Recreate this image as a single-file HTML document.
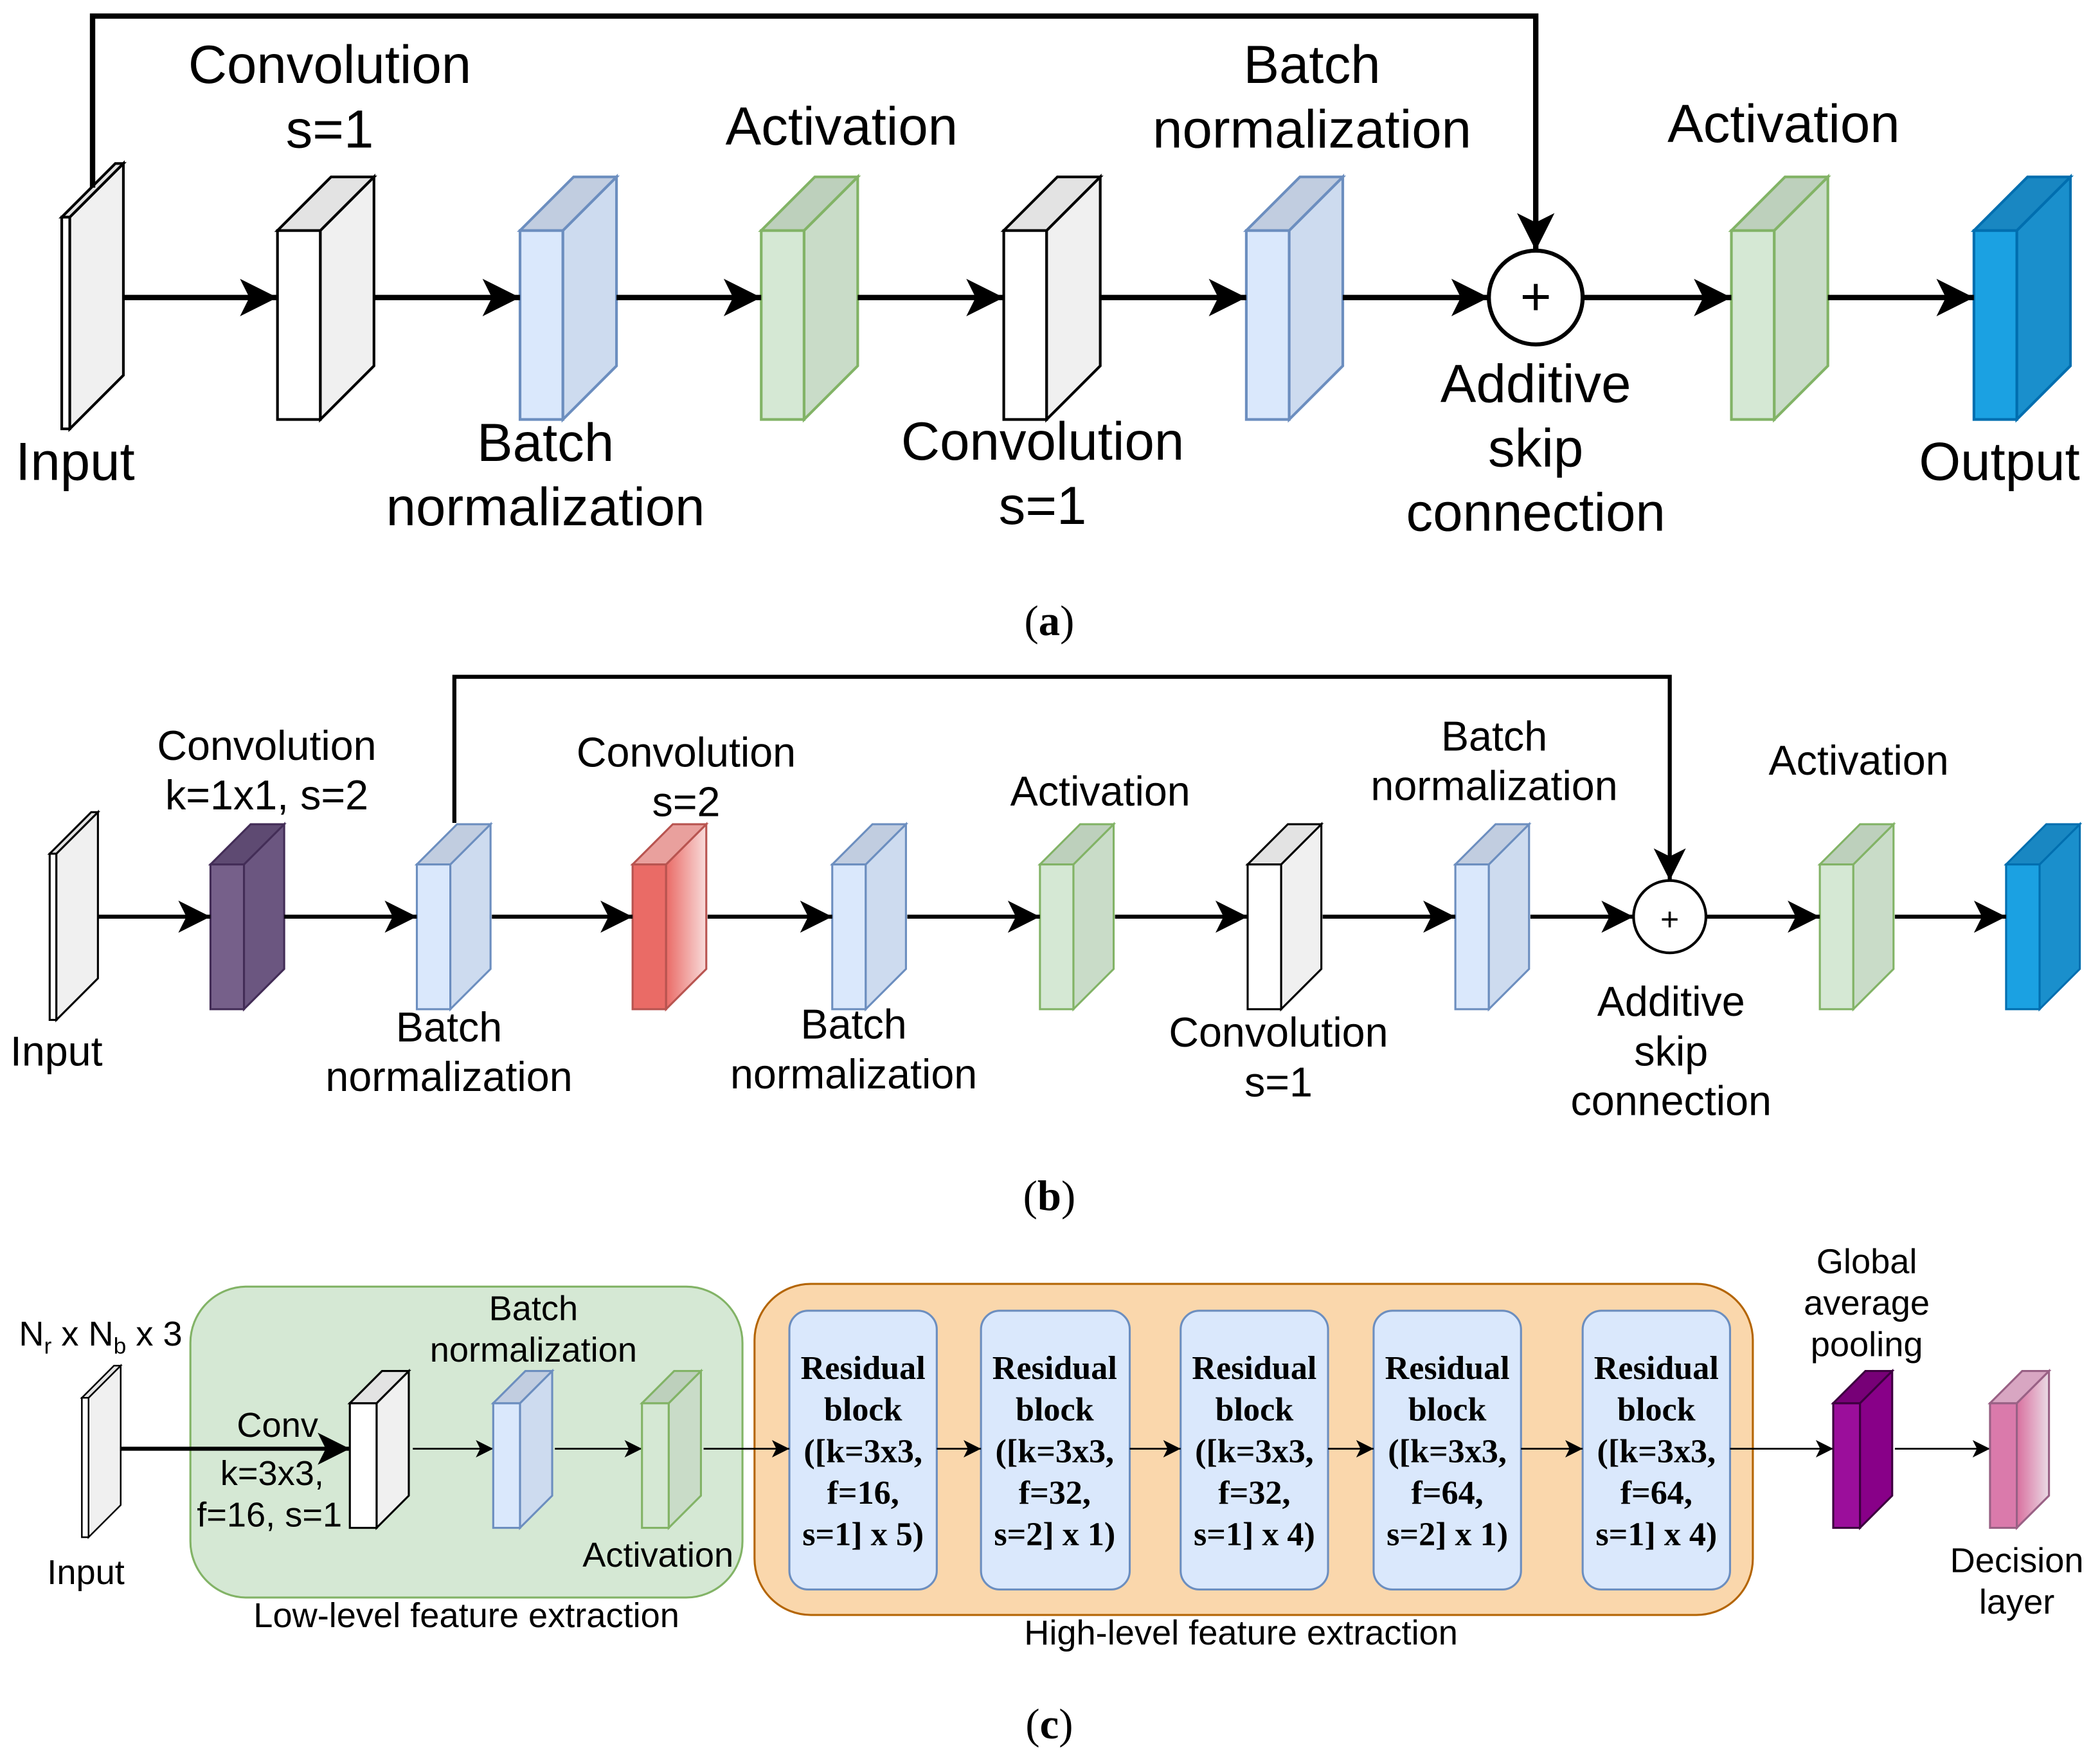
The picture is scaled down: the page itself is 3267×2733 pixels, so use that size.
<!DOCTYPE html>
<html><head><meta charset="utf-8"><style>
html,body{margin:0;padding:0;background:#fff;}
svg{display:block;}
text{font-family:"Liberation Sans",sans-serif;fill:#000;text-anchor:middle;}
.a{font-size:40px;}
.b{font-size:31px;}
.c{font-size:26px;}
.r{font-family:"Liberation Serif",serif;font-weight:bold;font-size:25px;}
.cap{font-family:"Liberation Serif",serif;font-size:32px;}
</style></head><body>
<svg id="s" width="3267" height="2733" viewBox="0 0 1567 1311" xmlns="http://www.w3.org/2000/svg">
<defs>
<marker id="m1" viewBox="0 0 10 10" refX="10" refY="5" markerWidth="7" markerHeight="8" markerUnits="strokeWidth" orient="auto"><path d="M0,0 L10,5 L0,10 L2.5,5 z" fill="#000"/></marker>
<marker id="m2" viewBox="0 0 10 10" refX="10" refY="5" markerWidth="8" markerHeight="9" markerUnits="strokeWidth" orient="auto"><path d="M0,0 L10,5 L0,10 L2.5,5 z" fill="#000"/></marker>
<marker id="m3" viewBox="0 0 10 10" refX="10" refY="5" markerWidth="10" markerHeight="10" markerUnits="strokeWidth" orient="auto"><path d="M0,0 L10,5 L0,10 L2.5,5 z" fill="#000"/></marker>
<linearGradient id="gr" x1="0" x2="1"><stop offset="0" stop-color="#ea6b66"/><stop offset="1" stop-color="#f8dcdb"/></linearGradient>
<linearGradient id="gp" x1="0" x2="1"><stop offset="0" stop-color="#d9709f"/><stop offset="1" stop-color="#eadbe5"/></linearGradient>
</defs>
<g id="shapes"></g>
<g fill="none" stroke="#000">
<g stroke-width="4" marker-end="url(#m1)">
<line x1="92" y1="222" x2="207" y2="222"/><line x1="279" y1="222" x2="388" y2="222"/>
<line x1="460" y1="222" x2="568" y2="222"/><line x1="640" y1="222" x2="749" y2="222"/>
<line x1="821" y1="222" x2="930" y2="222"/><line x1="1002" y1="222" x2="1111" y2="222"/>
<line x1="1181" y1="222" x2="1292" y2="222"/><line x1="1364" y1="222" x2="1473" y2="222"/>
<polyline points="69,140 69,12 1146,12 1146,187"/>
</g>
<g stroke-width="3" marker-end="url(#m2)">
<line x1="73" y1="684" x2="157" y2="684"/><line x1="212" y1="684" x2="311" y2="684"/>
<line x1="367" y1="684" x2="472" y2="684"/><line x1="528" y1="684" x2="621" y2="684"/>
<line x1="677" y1="684" x2="776" y2="684"/><line x1="832" y1="684" x2="931" y2="684"/>
<line x1="987" y1="684" x2="1086" y2="684"/><line x1="1142" y1="684" x2="1219" y2="684"/>
<line x1="1273" y1="684" x2="1358" y2="684"/><line x1="1414" y1="684" x2="1497" y2="684"/>
<polyline points="339,614 339,505 1246,505 1246,657"/>
</g>
</g>
<circle cx="1146" cy="222" r="35" fill="#fff" stroke="#000" stroke-width="3"/>
<text class="a" x="1146" y="235">+</text>
<circle cx="1246" cy="684" r="27" fill="#fff" stroke="#000" stroke-width="2"/>
<text class="b" x="1246" y="694" style="font-size:24px">+</text>

<rect x="142" y="960" width="412" height="232" rx="42" fill="#d5e8d4" stroke="#82b366" stroke-width="1.5"/>
<rect x="563" y="958" width="745" height="247" rx="42" fill="#fad7ac" stroke="#b46504" stroke-width="1.5"/>
<g fill="#dae8fc" stroke="#6c8ebf" stroke-width="1.5">
<rect x="589" y="978" width="110" height="208" rx="14"/>
<rect x="732" y="978" width="111" height="208" rx="14"/>
<rect x="881" y="978" width="110" height="208" rx="14"/>
<rect x="1025" y="978" width="110" height="208" rx="14"/>
<rect x="1181" y="978" width="110" height="208" rx="14"/>
</g>
<g fill="none" stroke="#000" stroke-width="1.3" marker-end="url(#m3)">
<line x1="308" y1="1081" x2="368" y2="1081"/><line x1="414" y1="1081" x2="479" y2="1081"/>
<line x1="525" y1="1081" x2="589" y2="1081"/><line x1="699" y1="1081" x2="732" y2="1081"/>
<line x1="843" y1="1081" x2="881" y2="1081"/><line x1="991" y1="1081" x2="1025" y2="1081"/>
<line x1="1135" y1="1081" x2="1181" y2="1081"/><line x1="1291" y1="1081" x2="1368" y2="1081"/>
<line x1="1414" y1="1081" x2="1485" y2="1081"/>
</g>
<line x1="90" y1="1081" x2="261" y2="1081" stroke="#000" stroke-width="3" marker-end="url(#m2)"/>
<g id="shapes2"></g>

<text class="a" x="246" y="62">Convolution</text><text class="a" x="246" y="110">s=1</text>
<text class="a" x="628" y="108">Activation</text>
<text class="a" x="979" y="62">Batch</text><text class="a" x="979" y="110">normalization</text>
<text class="a" x="1331" y="106">Activation</text>
<text class="a" x="56" y="358">Input</text>
<text class="a" x="407" y="344">Batch</text><text class="a" x="407" y="392">normalization</text>
<text class="a" x="778" y="343">Convolution</text><text class="a" x="778" y="391">s=1</text>
<text class="a" x="1146" y="300">Additive</text><text class="a" x="1146" y="348">skip</text><text class="a" x="1146" y="396">connection</text>
<text class="a" x="1492" y="358">Output</text>
<text class="cap" x="783" y="474">(<tspan font-weight="bold">a</tspan>)</text>
<text class="b" x="199" y="567">Convolution</text><text class="b" x="199" y="604">k=1x1, s=2</text>
<text class="b" x="512" y="572">Convolution</text><text class="b" x="512" y="609">s=2</text>
<text class="b" x="821" y="601">Activation</text>
<text class="b" x="1115" y="560">Batch</text><text class="b" x="1115" y="597">normalization</text>
<text class="b" x="1387" y="578">Activation</text>
<text class="b" x="42" y="795">Input</text>
<text class="b" x="335" y="777">Batch</text><text class="b" x="335" y="814">normalization</text>
<text class="b" x="637" y="775">Batch</text><text class="b" x="637" y="812">normalization</text>
<text class="b" x="954" y="781">Convolution</text><text class="b" x="954" y="818">s=1</text>
<text class="b" x="1247" y="758">Additive</text><text class="b" x="1247" y="795">skip</text><text class="b" x="1247" y="832">connection</text>
<text class="cap" x="783" y="903">(<tspan font-weight="bold">b</tspan>)</text>
<text class="c" x="75" y="1004">N<tspan font-size="17" dy="6">r</tspan><tspan dy="-6"> x N</tspan><tspan font-size="17" dy="6">b</tspan><tspan dy="-6"> x 3</tspan></text>
<text class="c" x="64" y="1182">Input</text>
<text class="c" x="207" y="1072">Conv</text><text class="c" x="203" y="1108">k=3x3,</text><text class="c" x="201" y="1139">f=16, s=1</text>
<text class="c" x="398" y="985">Batch</text><text class="c" x="398" y="1016">normalization</text>
<text class="c" x="491" y="1169">Activation</text>
<text class="c" x="348" y="1214">Low-level feature extraction</text>
<text class="c" x="926" y="1227">High-level feature extraction</text>
<text class="c" x="1393" y="950">Global</text><text class="c" x="1393" y="981">average</text><text class="c" x="1393" y="1012">pooling</text>
<text class="c" x="1505" y="1173">Decision</text><text class="c" x="1505" y="1204">layer</text>
<text class="r" x="644" y="1029">Residual</text><text class="r" x="644" y="1060">block</text><text class="r" x="644" y="1091">([k=3x3,</text><text class="r" x="644" y="1122">f=16,</text><text class="r" x="644" y="1153">s=1] x 5)</text>
<text class="r" x="787" y="1029">Residual</text><text class="r" x="787" y="1060">block</text><text class="r" x="787" y="1091">([k=3x3,</text><text class="r" x="787" y="1122">f=32,</text><text class="r" x="787" y="1153">s=2] x 1)</text>
<text class="r" x="936" y="1029">Residual</text><text class="r" x="936" y="1060">block</text><text class="r" x="936" y="1091">([k=3x3,</text><text class="r" x="936" y="1122">f=32,</text><text class="r" x="936" y="1153">s=1] x 4)</text>
<text class="r" x="1080" y="1029">Residual</text><text class="r" x="1080" y="1060">block</text><text class="r" x="1080" y="1091">([k=3x3,</text><text class="r" x="1080" y="1122">f=64,</text><text class="r" x="1080" y="1153">s=2] x 1)</text>
<text class="r" x="1236" y="1029">Residual</text><text class="r" x="1236" y="1060">block</text><text class="r" x="1236" y="1091">([k=3x3,</text><text class="r" x="1236" y="1122">f=64,</text><text class="r" x="1236" y="1153">s=1] x 4)</text>
<text class="cap" x="783" y="1297">(<tspan font-weight="bold">c</tspan>)</text>
</svg>
<script>
var NS="http://www.w3.org/2000/svg";
var P={
 w:["#fff","#f0f0f0","#e3e3e3","#000"],
 b:["#dae8fc","#cddbef","#c1cde0","#6c8ebf"],
 g:["#d5e8d4","#c9dcc8","#bdd0bc","#82b366"],
 o:["#1ba1e2","#1a8fcc","#1987c2","#006eaf"],
 p:["#76608a","#6b5680","#5e4a72","#432d57"],
 r:["#ea6b66","url(#gr)","#e9a09d","#b85450"],
 m:["#9b0e9b","#880088","#770077","#3d003f"],
 k:["#da7aab","url(#gp)","#d8a6c2","#996185"],
 i:["#fff","#f0f0f0","#e3e3e3","#000"]
};
function poly(g,pts,fill,stroke,sw){var e=document.createElementNS(NS,"polygon");e.setAttribute("points",pts.map(function(p){return p.join(",")}).join(" "));e.setAttribute("fill",fill);e.setAttribute("stroke",stroke);e.setAttribute("stroke-width",sw);g.appendChild(e);}
function cub(gid,x,y,w,h,d,c,sw){var g=document.getElementById(gid);var q=P[c];
 poly(g,[[x,y],[x+w,y],[x+w,y+h],[x,y+h]],q[0],q[3],sw);
 poly(g,[[x+w,y],[x+w+d,y-d],[x+w+d,y+h-d],[x+w,y+h]],q[1],q[3],sw);
 poly(g,[[x,y],[x+d,y-d],[x+w+d,y-d],[x+w,y]],q[2],q[3],sw);}
cub("shapes",46,162,6,158,40,"i",2);
[[207,"w"],[388,"b"],[568,"g"],[749,"w"],[930,"b"],[1292,"g"],[1473,"o"]].forEach(function(a){cub("shapes",a[0],172,32,141,40,a[1],2);});
cub("shapes",37,637,5,124,31,"i",1.5);
[[157,"p"],[311,"b"],[472,"r"],[621,"b"],[776,"g"],[931,"w"],[1086,"b"],[1358,"g"],[1497,"o"]].forEach(function(a){cub("shapes",a[0],645,25,108,30,a[1],1.5);});
cub("shapes2",61,1043,5,104,24,"i",1.2);
[[261,"w"],[368,"b"],[479,"g"],[1368,"m"],[1485,"k"]].forEach(function(a){cub("shapes2",a[0],1047,20,93,24,a[1],1.5);});
</script>
</body></html>
